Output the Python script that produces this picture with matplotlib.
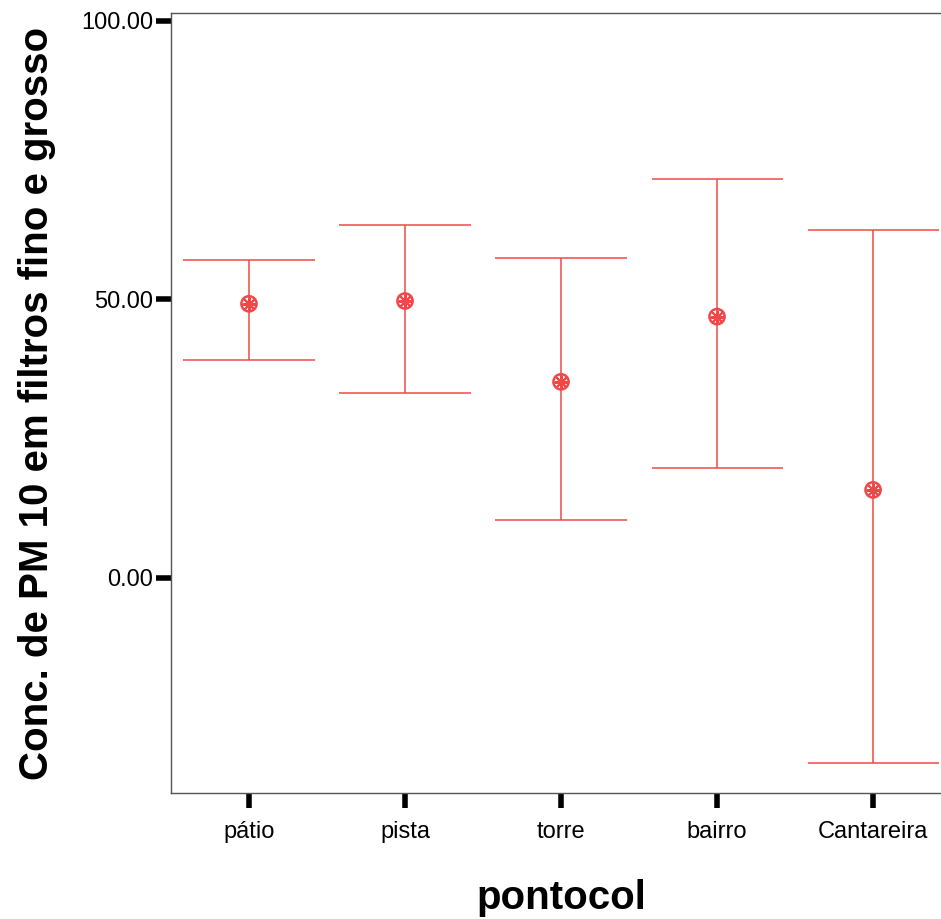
import matplotlib.pyplot as plt

# pontos de coleta e intervalos (média e limites do IC)
pontos = ['pátio', 'pista', 'torre', 'bairro', 'Cantareira']
media = [49.2, 49.7, 35.2, 46.9, 15.8]
limite_sup = [57.1, 63.4, 57.5, 71.6, 62.5]
limite_inf = [39.1, 33.2, 10.4, 19.7, -33.2]
yticks = [0, 50, 100]

cor = '#f04848'
plt.rcParams['font.family'] = ['Liberation Sans', 'DejaVu Sans']

fig = plt.figure(figsize=(9.41, 9.19), dpi=100)
ax = fig.add_axes([0.1817, 0.1371, 0.829, 0.8488])

x = list(range(len(pontos)))
err_low = [m - lo for m, lo in zip(media, limite_inf)]
err_high = [hi - m for m, hi in zip(media, limite_sup)]

# barras verticais
ax.errorbar(x, media, yerr=[err_low, err_high], fmt='none', ecolor=cor,
            elinewidth=1.1, capsize=0)
# traços horizontais nos extremos
ax.hlines(limite_sup, [i - 0.42 for i in x], [i + 0.42 for i in x], color=cor, lw=1.1)
ax.hlines(limite_inf, [i - 0.42 for i in x], [i + 0.42 for i in x], color=cor, lw=1.1)

# marcador central (roda)
ax.scatter(x, media, s=120, facecolors='none', edgecolors=cor, linewidths=1.8, zorder=3)
ax.scatter(x, media, s=80, marker=(8, 2, 0), color=cor, linewidths=1.5, zorder=3)

ax.set_xlim(-0.5, 4.5)
ax.set_ylim(-38.6, 101.4)
ax.set_xticks(x)
ax.set_xticklabels(pontos, fontsize=17)
ax.set_yticks(yticks)
ax.set_yticklabels([f'{v:.2f}' for v in yticks], fontsize=17)
ax.tick_params(axis='both', direction='out', length=11, width=4, color='black')
ax.tick_params(axis='x', pad=9)
ax.tick_params(axis='y', pad=2)

for lado in ['left', 'bottom', 'top', 'right']:
    ax.spines[lado].set_color('#555555')
    ax.spines[lado].set_linewidth(1)

ax.set_ylabel('Conc. de PM 10 em filtros fino e grosso', fontsize=29,
              fontweight='bold', labelpad=18)
ax.set_xlabel('pontocol', fontsize=29, fontweight='bold', labelpad=26)

fig.savefig('out.png', dpi=100)
